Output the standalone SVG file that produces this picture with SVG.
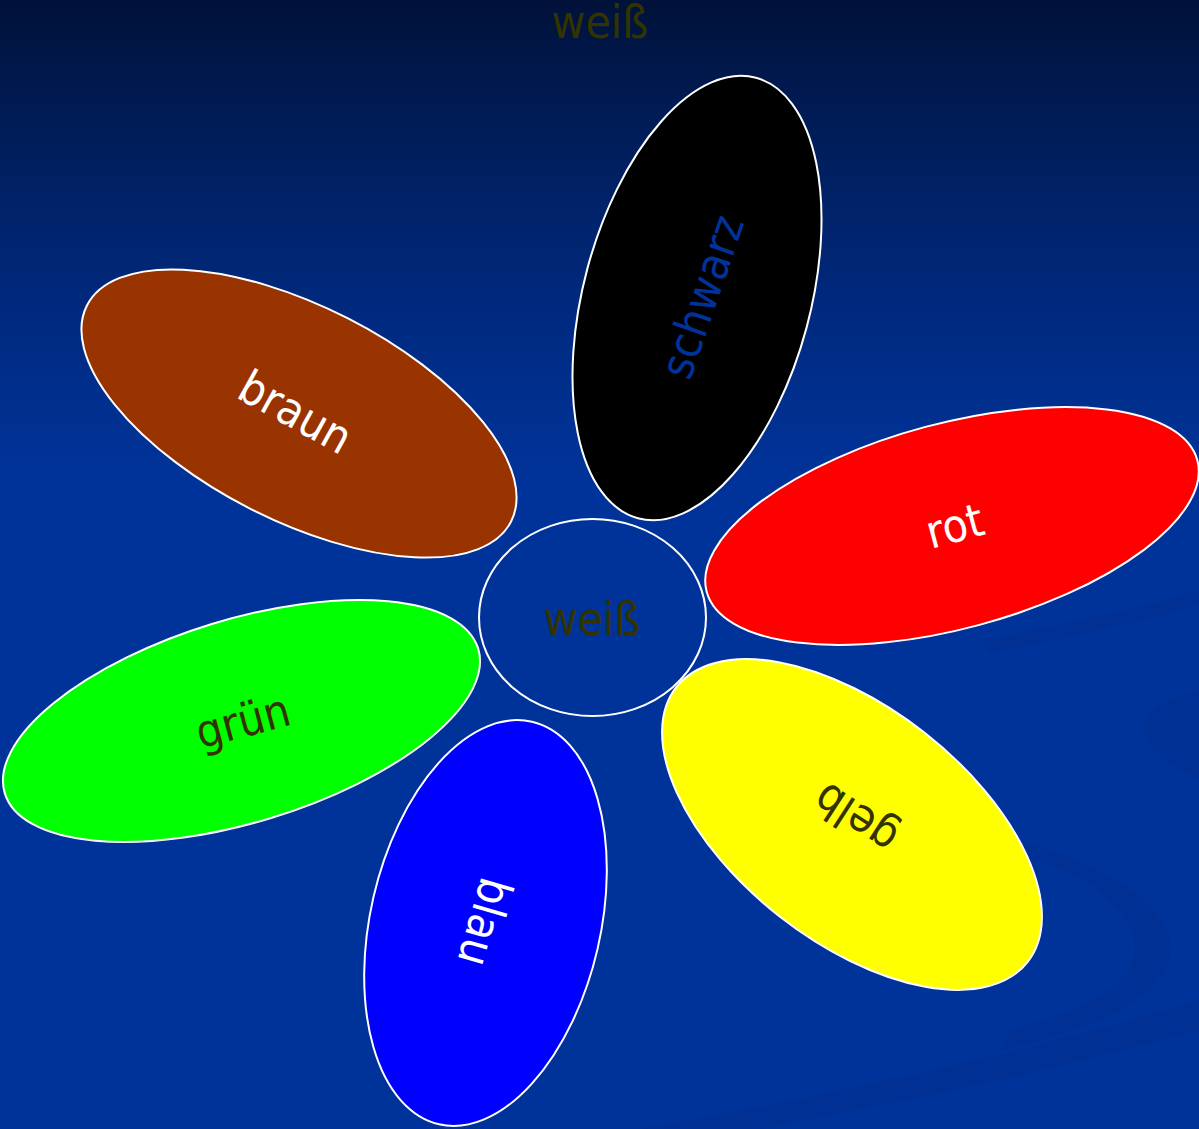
<svg xmlns="http://www.w3.org/2000/svg" width="1199" height="1129" viewBox="0 0 1199 1129">
  <defs>
    <linearGradient id="bg" x1="0" y1="0" x2="0" y2="1129" gradientUnits="userSpaceOnUse">
      <stop offset="0" stop-color="#00123a"/>
      <stop offset="0.12" stop-color="#001d5a"/>
      <stop offset="0.28" stop-color="#002a80"/>
      <stop offset="0.42" stop-color="#003399"/>
      <stop offset="1" stop-color="#003399"/>
    </linearGradient>
  </defs>
  <style>
    .petal { stroke: #ffffff; stroke-width: 2; }
    .lbl { font-family: "DejaVu Sans Condensed", "DejaVu Sans", sans-serif; font-stretch: condensed; font-size: 46px; text-anchor: middle; }
    .dark { fill: #333300; }
    .white { fill: #ffffff; }
    .swirl { fill: #002e8e; opacity: 0.55; }
  </style>
  <rect x="0" y="0" width="1199" height="1129" fill="url(#bg)"/>
  <g id="background-swirls">
    <path class="swirl" d="M1199,690 C1160,700 1140,715 1145,735 C1150,755 1180,770 1199,780 Z"/>
    <path class="swirl" d="M1020,840 C1090,860 1160,895 1170,940 C1180,990 1100,1030 1000,1050 L1010,1030 C1090,1010 1140,980 1135,945 C1125,900 1080,870 1015,855 Z"/>
    <path class="swirl" d="M640,1129 C800,1100 1000,1060 1199,1000 L1199,1030 C1020,1080 860,1110 760,1129 Z"/>
    <path class="swirl" d="M980,640 C1060,625 1130,610 1199,590 L1199,605 C1130,625 1060,640 990,652 Z"/>
  </g>
  <text class="lbl dark" x="600" y="38">weiß</text>
  <g id="node-schwarz">
    <ellipse class="petal" fill="#000000" cx="697" cy="298" rx="113.5" ry="228" transform="rotate(15 697 298)"/>
    <text class="lbl" fill="#003399" transform="translate(703 297) rotate(-71)" y="15">schwarz</text>
  </g>
  <g id="node-rot">
    <ellipse class="petal" fill="#ff0000" cx="952" cy="526" rx="254" ry="102.6" transform="rotate(-15 952 526)"/>
    <text class="lbl white" transform="translate(955 527) rotate(-15)" y="15">rot</text>
  </g>
  <g id="node-braun">
    <ellipse class="petal" fill="#993300" cx="299" cy="413.5" rx="238" ry="107" transform="rotate(27 299 413.5)"/>
    <text class="lbl white" transform="translate(295 413) rotate(29)" y="15">braun</text>
  </g>
  <g id="node-gruen">
    <ellipse class="petal" fill="#00ff00" cx="241.5" cy="721" rx="247.5" ry="101.4" transform="rotate(-17 241.5 721)"/>
    <text class="lbl dark" transform="translate(243 722) rotate(-15)" y="15">grün</text>
  </g>
  <g id="node-blau">
    <ellipse class="petal" fill="#0000ff" cx="485.5" cy="923" rx="115" ry="206.6" transform="rotate(13 485.5 923)"/>
    <text class="lbl white" transform="translate(484 922) rotate(106)" y="15">blau</text>
  </g>
  <g id="node-gelb">
    <ellipse class="petal" fill="#ffff00" cx="852" cy="824.5" rx="223" ry="117" transform="rotate(38 852 824.5)"/>
    <text class="lbl dark" transform="translate(856 818) rotate(-147)" y="15">gelb</text>
  </g>
  <g id="node-weiss">
    <ellipse class="petal" fill="#003399" cx="592.5" cy="617.5" rx="113.5" ry="98.5"/>
    <text class="lbl dark" x="592" y="635">weiß</text>
  </g>
  <g id="connectors"/>
</svg>
